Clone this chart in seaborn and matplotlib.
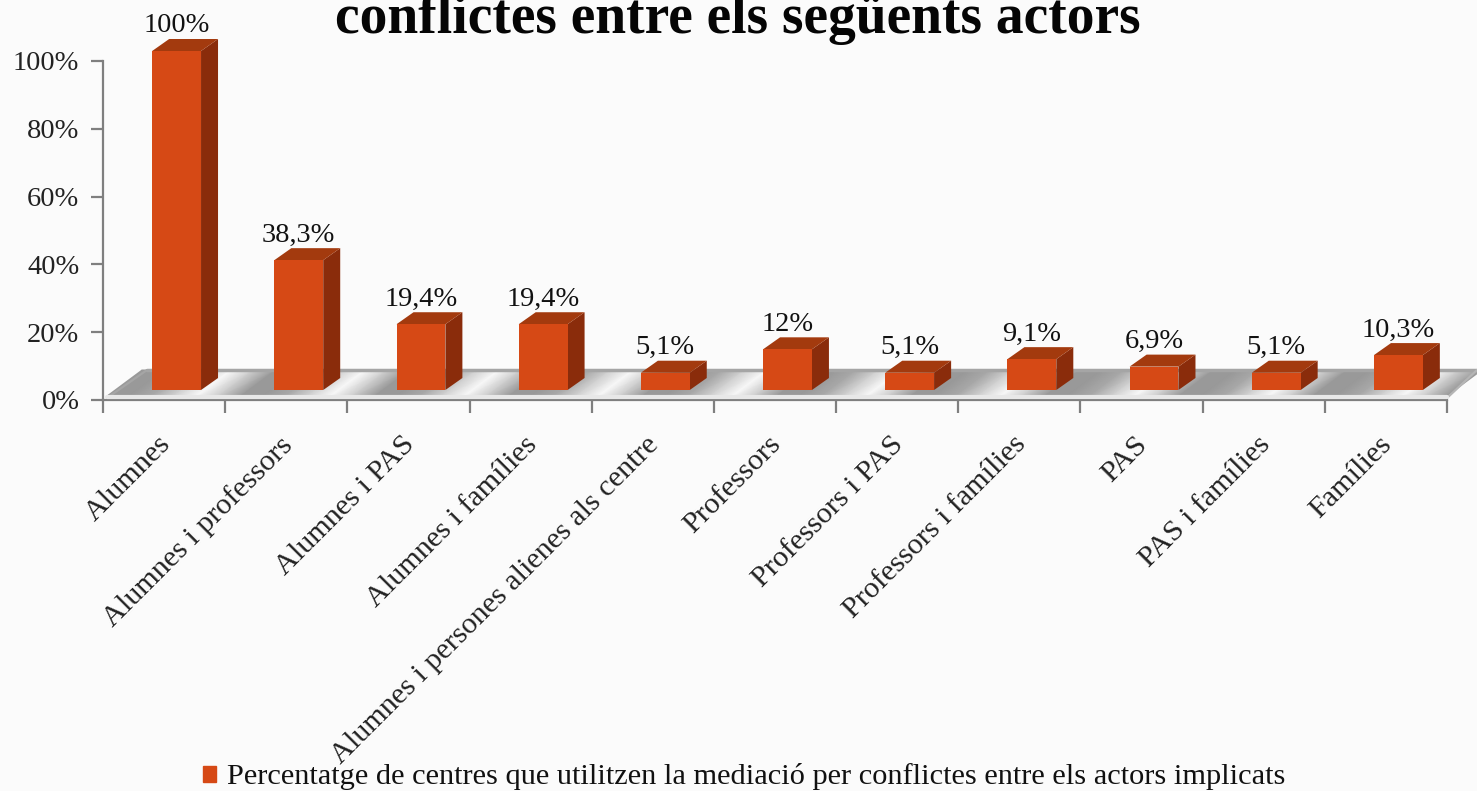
import numpy as np
import pandas as pd
import matplotlib
matplotlib.use('Agg')
import matplotlib.pyplot as plt
from matplotlib.patches import Patch, Polygon
from matplotlib.transforms import ScaledTranslation
import seaborn as sns

categories = ['Alumnes', 'Alumnes i professors', 'Alumnes i PAS', 'Alumnes i famílies',
              'Alumnes i persones alienes als centre', 'Professors', 'Professors i PAS',
              'Professors i famílies', 'PAS', 'PAS i famílies', 'Famílies']
values = [100, 38.3, 19.4, 19.4, 5.1, 12, 5.1, 9.1, 6.9, 5.1, 10.3]
value_labels = ['100%', '38,3%', '19,4%', '19,4%', '5,1%', '12%', '5,1%', '9,1%', '6,9%', '5,1%', '10,3%']
y_ticks = [0, 20, 40, 60, 80, 100]
y_tick_labels = ['0%', '20%', '40%', '60%', '80%', '100%']
title_text = 'conflictes entre els següents actors'
legend_text = 'Percentatge de centres que utilitzen la mediació per conflictes entre els actors implicats'

W, H = 1477, 791
FRONT, SIDE, TOP = '#d64915', '#8a2c0b', '#a33a0e'
GREY = '#7f7f7f'

sns.set_theme(style='white')
plt.rcParams['font.family'] = ['Liberation Serif', 'DejaVu Serif']
plt.rcParams['text.color'] = '#111111'

fig = plt.figure(figsize=(W / 100, H / 100), dpi=100, facecolor='#fbfbfb')


def box(left, top, right, bottom):
    return [left / W, 1 - bottom / H, (right - left) / W, (bottom - top) / H]


# axis frame with the ticks
ax = fig.add_axes(box(103, 61, 1447, 400))
ax.patch.set_alpha(0)
ax.set_xlim(-0.5, 10.5)
ax.set_ylim(0, 100)
for s in ['top', 'right']:
    ax.spines[s].set_visible(False)
for s in ['left', 'bottom']:
    ax.spines[s].set_color(GREY)
    ax.spines[s].set_linewidth(1.6)
ax.set_yticks(y_ticks, y_tick_labels, fontsize=20.5, color='#222222')
ax.set_xticks(np.arange(-0.5, 11, 1), [''] * 12)
ax.set_xticks(range(11), categories, minor=True, rotation=45, ha='right',
              rotation_mode='anchor', fontsize=21.7, color='#222222')
ax.tick_params(axis='x', which='major', length=9, width=1.6, color=GREY, bottom=True)
ax.tick_params(axis='x', which='minor', length=0, pad=24)
ax.tick_params(axis='y', length=9, width=1.6, color=GREY, left=True, pad=8)
for lab in ax.get_xticklabels(minor=True):
    lab.set_transform(lab.get_transform() + ScaledTranslation(-7 / 100, 2 / 100, fig.dpi_scale_trans))

# floor of the 3d chart, pixel units
floor_ax = fig.add_axes([0, 0, 1, 1], zorder=0.5)
floor_ax.patch.set_alpha(0)
floor_ax.set_xlim(0, W)
floor_ax.set_ylim(H, 0)
floor_ax.axis('off')
front_x = np.linspace(107, 1447, 61)
X = np.vstack([front_x, front_x + 35])
Y = np.vstack([np.full(61, 396), np.full(61, 370)])
shade = np.resize([0.60, 0.60, 0.66, 0.82, 0.97, 0.80], 61)
floor_ax.pcolormesh(X, Y, np.vstack([shade, shade]), cmap='gray', vmin=0, vmax=1, shading='gouraud')
floor_ax.plot([147, 1477], [370, 370], color='#a5a5a5', lw=2.5)
floor_ax.plot([107, 147], [398, 370], color='#a5a5a5', lw=1.6)
floor_ax.plot([1447, 1477], [398, 370], color='#b5b5b5', lw=1.6)
floor_ax.plot([107, 1447], [397, 397], color='#e8e8e8', lw=3)

# bars, axes shifted onto the floor
bar_ax = fig.add_axes(box(115.5, 51, 1459.5, 390), zorder=2)
bar_ax.patch.set_alpha(0)
df = pd.DataFrame({'actor': categories, 'pct': values})
sns.barplot(data=df, x='actor', y='pct', color=FRONT, saturation=1, width=0.4, ax=bar_ax,
            zorder=3, linewidth=0)
bar_ax.set_xlim(-0.5, 10.5)
bar_ax.set_ylim(0, 100)
bar_ax.axis('off')

# side and top faces from the bars
depth_x, depth_y = 17, 12
for bar in bar_ax.containers[0]:
    x0, x1 = bar.get_x(), bar.get_x() + bar.get_width()
    h = bar.get_height()
    a = bar_ax.transData.transform([(x1, 0), (x1, h), (x0, h)])
    side = [a[0], a[1], a[1] + (depth_x, depth_y), a[0] + (depth_x, depth_y)]
    top = [a[2], a[1], a[1] + (depth_x, depth_y), a[2] + (depth_x, depth_y)]
    bar_ax.add_patch(Polygon(side, closed=True, fc=SIDE, ec='none', transform=None, zorder=2, clip_on=False))
    bar_ax.add_patch(Polygon(top, closed=True, fc=TOP, ec='none', transform=None, zorder=2, clip_on=False))

bar_ax.bar_label(bar_ax.containers[0], labels=value_labels, padding=9, fontsize=20.5, color='#111111',
                 transform=bar_ax.transData + ScaledTranslation(3 / 100, 0, fig.dpi_scale_trans))

fig.text(738 / W, 1 - 33 / H, title_text, ha='center', va='baseline', fontsize=40, fontweight='bold', color='#050505')
fig.legend(handles=[Patch(color=FRONT, label=legend_text)], loc='center left',
           bbox_to_anchor=(176 / W, 1 - 777 / H), frameon=False, fontsize=21.9,
           handlelength=0.43, handleheight=0.43, handletextpad=0.36)

fig.savefig('out.png', dpi=100, facecolor=fig.get_facecolor())
